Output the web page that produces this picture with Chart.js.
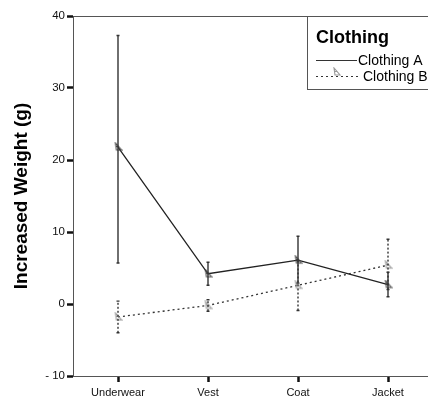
<!DOCTYPE html>
<html>
<head>
<meta charset="utf-8">
<script src="https://cdn.jsdelivr.net/npm/chart.js@4/dist/chart.umd.min.js"></script>
<style>
  html, body { margin: 0; padding: 0; background: #fff; overflow: hidden; }
  #wrap { width: 440px; height: 398px; }
</style>
</head>
<body>
<div id="wrap"><canvas id="c" width="440" height="398"></canvas></div>
<script>
// Clothing categories and group statistics (means with error bar limits)
const categories = ['Underwear', 'Vest', 'Coat', 'Jacket'];
const meanA = [21.8, 4.2, 6.1, 2.7];
const lowA  = [5.7, 2.6, 2.9, 1.0];
const highA = [37.3, 5.8, 9.4, 4.4];
const meanB = [-1.8, -0.2, 2.6, 5.4];
const lowB  = [-4.0, -1.0, -0.9, 2.0];
const highB = [0.4, 0.6, 6.0, 9.0];
const yTickValues = [-10, 0, 10, 20, 30, 40];
const yTickLabels = ['- 10', '0', '10', '20', '30', '40'];
const seriesNames = ['Clothing A', 'Clothing B'];
const legendTitle = 'Clothing';
const yTitle = 'Increased Weight (g)';

const FONT = '"Liberation Sans", Arial, Helvetica, sans-serif';

// small sketchy marker glyph
function makeMarker(color) {
  const m = document.createElement('canvas');
  m.width = 9; m.height = 10;
  const g = m.getContext('2d');
  g.strokeStyle = color; g.lineWidth = 1.1;
  g.beginPath();
  g.moveTo(2, 1); g.lineTo(3, 8); g.lineTo(8, 8); g.closePath();
  g.moveTo(2, 4.5); g.lineTo(5.5, 4.5);
  g.stroke();
  return m;
}
const markerA = makeMarker('#444');
const markerB = makeMarker('#999');

const errorBars = {
  id: 'errorBars',
  afterDatasetsDraw(chart) {
    const ctx = chart.ctx;
    const xs = chart.scales.x, ys = chart.scales.y;
    const sets = [
      { low: lowA, high: highA, color: '#333', dash: [] },
      { low: lowB, high: highB, color: '#333', dash: [2, 2] }
    ];
    ctx.save();
    sets.forEach(s => {
      ctx.strokeStyle = s.color;
      ctx.lineWidth = 1.4;
      ctx.setLineDash(s.dash);
      categories.forEach((c, i) => {
        const x = xs.getPixelForValue(i);
        const y1 = ys.getPixelForValue(s.low[i]);
        const y2 = ys.getPixelForValue(s.high[i]);
        ctx.beginPath();
        ctx.moveTo(x, y1); ctx.lineTo(x, y2);
        ctx.stroke();
        ctx.setLineDash([]);
        ctx.beginPath();
        ctx.moveTo(x - 1.5, y1); ctx.lineTo(x + 1.5, y1);
        ctx.moveTo(x - 1.5, y2); ctx.lineTo(x + 1.5, y2);
        ctx.stroke();
        ctx.setLineDash(s.dash);
      });
    });
    ctx.restore();
  }
};

const frameAndLegend = {
  id: 'frameAndLegend',
  afterDraw(chart) {
    const ctx = chart.ctx;
    const a = chart.chartArea;
    ctx.save();
    // top frame line
    ctx.strokeStyle = '#555';
    ctx.lineWidth = 1;
    ctx.beginPath();
    ctx.moveTo(a.left, a.top + 0.5);
    ctx.lineTo(a.right, a.top + 0.5);
    ctx.stroke();
    // legend box
    const bx = 307.5, by = a.top + 0.5, bw = 140, bh = 73;
    ctx.fillStyle = '#fff';
    ctx.fillRect(bx, by, bw, bh);
    ctx.strokeStyle = '#555';
    ctx.strokeRect(bx, by, bw, bh);
    ctx.fillStyle = '#000';
    ctx.textBaseline = 'alphabetic';
    ctx.font = 'bold 18px ' + FONT;
    ctx.fillText(legendTitle, 316, 43);
    ctx.font = '14px ' + FONT;
    // Clothing A entry
    ctx.strokeStyle = '#333';
    ctx.lineWidth = 1.2;
    ctx.beginPath(); ctx.moveTo(316, 60.5); ctx.lineTo(357, 60.5); ctx.stroke();
    ctx.fillText(seriesNames[0], 358, 65);
    // Clothing B entry
    ctx.setLineDash([2, 3]);
    ctx.beginPath(); ctx.moveTo(316, 76.5); ctx.lineTo(361, 76.5); ctx.stroke();
    ctx.setLineDash([]);
    ctx.drawImage(markerB, 332, 67);
    ctx.fillText(seriesNames[1], 363, 81);
    ctx.restore();
  }
};

new Chart(document.getElementById('c'), {
  type: 'line',
  data: {
    labels: categories,
    datasets: [
      {
        label: seriesNames[0], data: meanA,
        borderColor: '#222', borderWidth: 1.3, tension: 0,
        pointStyle: markerA, pointRadius: 4
      },
      {
        label: seriesNames[1], data: meanB,
        borderColor: '#333', borderWidth: 1.3, borderDash: [2, 3], tension: 0,
        pointStyle: markerB, pointRadius: 4
      }
    ]
  },
  options: {
    responsive: false,
    animation: false,
    layout: { padding: { left: 0, top: 16, right: 7, bottom: 0 } },
    plugins: { legend: { display: false }, tooltip: { enabled: false } },
    scales: {
      x: {
        type: 'category',
        offset: true,
        grid: { display: true, drawOnChartArea: false, drawTicks: true, tickLength: 6, tickWidth: 2.5, tickColor: '#111', offset: false },
        border: { color: '#555', width: 1 },
        ticks: { color: '#111', font: { family: FONT, size: 11 }, padding: 4 },
        afterFit(s) { s.height = 22; }
      },
      y: {
        min: -10, max: 40,
        afterBuildTicks(s) { s.ticks = yTickValues.map(v => ({ value: v })); },
        grid: { display: true, drawOnChartArea: false, drawTicks: true, tickLength: 6, tickWidth: 2.5, tickColor: '#111' },
        border: { color: '#555', width: 1 },
        ticks: {
          color: '#111', font: { family: FONT, size: 11.5 }, padding: 2,
          callback(v) { const i = yTickValues.indexOf(v); return i >= 0 ? yTickLabels[i] : ''; }
        },
        title: { display: true, text: yTitle, color: '#000', font: { family: FONT, size: 19, weight: 'bold' }, padding: { top: 10, bottom: 0 } },
        afterFit(s) { s.width = 73; }
      }
    }
  },
  plugins: [errorBars, frameAndLegend]
});
</script>
</body>
</html>
